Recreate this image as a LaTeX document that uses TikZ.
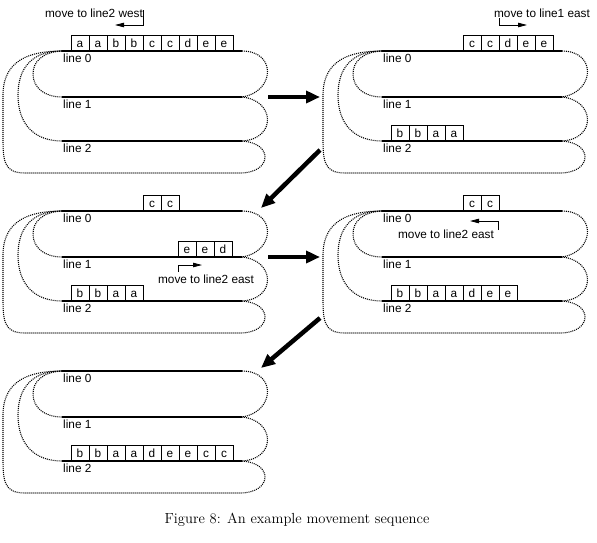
\documentclass[tikz,border=0pt]{standalone}
\usepackage{fontspec}
\setsansfont{Liberation Sans}
\usetikzlibrary{arrows.meta,positioning,calc}

% one track: three lines joined by dotted loops
\newcommand{\track}[1]{%
  \foreach \k/\y in {0/51,1/97,2/141} {
    \coordinate (#1w\k) at (62,\y);
    \coordinate (#1e\k) at (242,\y);
    \draw[rail] (#1w\k) -- (#1e\k);
    \node[lbl, anchor=north west, yshift=-2pt] (#1l\k) at (#1w\k) {line \k};
  }
  \draw[curl] (#1e0) .. controls (277,51) and (275,92) .. (#1e1);
  \draw[curl] (#1e1) .. controls (275,100) and (277,139) .. (#1e2);
  \draw[curl] (#1e2) .. controls (274,143) and (272,173) .. (240,173) -- (25,173)
     .. controls (3,173) and (3,160) .. (3,135) -- (3,95) .. controls (3,60) and (30,51) .. (#1w0);
  \draw[curl] (#1w0) .. controls (30,51) and (18,70) .. (18,95) .. controls (18,125) and (35,141) .. (#1w2);
  \draw[curl] (#1w0) .. controls (42,52) and (33,62) .. (33,74) .. controls (33,88) and (45,97) .. (#1w1);
}
% a row of cars sitting on a line
\newcommand{\cars}[4]{%
  \foreach \ch [count=\n] in {#4}
    \node[car] (#1\n) at ({#2+18*\n-9},{#3-8}) {\ch};
}

\begin{document}
\begin{tikzpicture}[x=1pt,y=-1pt,
    rail/.style={line width=1.6pt},
    curl/.style={line width=1.1pt, dash pattern=on 1pt off 1pt},
    lbl/.style={font=\sffamily\fontsize{11.8}{13}\selectfont, inner sep=1pt},
    car/.style={draw, line width=0.6pt, minimum width=18pt, minimum height=16pt, inner sep=0pt,
                text height=8pt, text depth=0pt, font=\sffamily\fontsize{11.8}{13}\selectfont},
    hint/.style={-{Triangle[length=9pt,width=4.5pt]}, line width=0.8pt},
    move/.style={-{Triangle[length=14pt,width=12pt]}, line width=4.5pt}]
  \useasboundingbox (0,0) rectangle (597,542);

  % step 1
  \track{p1}
  \cars{p1c}{71}{51}{a,a,b,b,c,c,d,e,e}
  \node[lbl] (p1m) at (94,13) {move to line2 west};
  \coordinate (p1s) at (143,10); \coordinate (p1t) at (115,25);
  \draw[hint] (p1s) |- (p1t);

  % step 2
  \begin{scope}[shift={(320,0)}]
    \track{p2}
    \cars{p2c}{143}{51}{c,c,d,e,e}
    \cars{p2d}{71}{141}{b,b,a,a}
    \node[lbl] (p2m) at (222,13) {move to line1 east};
    \coordinate (p2s) at (179,18); \coordinate (p2t) at (207,25);
    \draw[hint] (p2s) |- (p2t);
  \end{scope}

  % step 3
  \begin{scope}[shift={(0,160)}]
    \track{p3}
    \cars{p3c}{143}{51}{c,c}
    \cars{p3d}{178}{97}{e,e,d}
    \cars{p3e}{71}{141}{b,b,a,a}
    \node[lbl] (p3m) at (206,119) {move to line2 east};
    \coordinate (p3s) at (178,112); \coordinate (p3t) at (202,105);
    \draw[hint] (p3s) |- (p3t);
  \end{scope}

  % step 4
  \begin{scope}[shift={(320,160)}]
    \track{p4}
    \cars{p4c}{143}{51}{c,c}
    \cars{p4d}{71}{141}{b,b,a,a,d,e,e}
    \node[lbl] (p4m) at (126,74) {move to line2 east};
    \coordinate (p4s) at (178,70); \coordinate (p4t) at (150,61);
    \draw[hint] (p4s) |- (p4t);
  \end{scope}

  % step 5
  \begin{scope}[shift={(0,320)}]
    \track{p5}
    \cars{p5c}{71}{141}{b,b,a,a,d,e,e,c,c}
  \end{scope}

  % moves between steps
  \coordinate (m1a) at (268,97);  \coordinate (m1b) at (320,97);
  \coordinate (m2a) at (320,150); \coordinate (m2b) at (261,208);
  \coordinate (m3a) at (268,257); \coordinate (m3b) at (320,257);
  \coordinate (m4a) at (320,318); \coordinate (m4b) at (261,368);
  \draw[move] (m1a) -- (m1b);
  \draw[move] (m2a) -- (m2b);
  \draw[move] (m3a) -- (m3b);
  \draw[move] (m4a) -- (m4b);

  \node[font=\fontsize{14.6}{17}\selectfont] (cap) at (297,520) {Figure 8: An example movement sequence};
\end{tikzpicture}
\end{document}
